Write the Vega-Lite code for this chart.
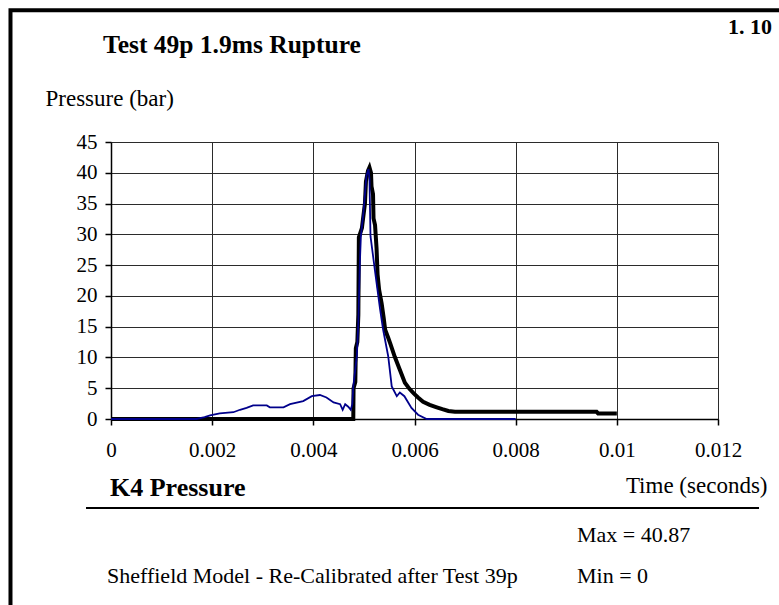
{
  "$schema": "https://vega.github.io/schema/vega-lite/v6.json",
  "width": 607,
  "height": 277,
  "autosize": {"type": "none"},
  "padding": {"left": 111, "top": 142, "right": 61, "bottom": 186},
  "background": "white",
  "title": {
    "text": "Test 49p 1.9ms Rupture",
    "anchor": "start",
    "frame": "group",
    "dx": -8,
    "offset": -50,
    "font": "Liberation Serif",
    "fontSize": 25.5,
    "fontWeight": "bold",
    "color": "black"
  },
  "config": {
    "view": {"stroke": null},
    "font": "Liberation Serif",
    "axis": {
      "labelFont": "Liberation Serif",
      "labelFontSize": 21,
      "labelColor": "black",
      "labelOverlap": false,
      "titleFont": "Liberation Serif",
      "titleFontSize": 23,
      "titleFontWeight": "normal",
      "titleColor": "black",
      "domainColor": "black",
      "domainWidth": 1.5,
      "tickColor": "black",
      "tickWidth": 1.5,
      "tickSize": 6,
      "grid": true,
      "gridColor": "#2b2b2b",
      "gridWidth": 1,
      "gridOpacity": 1
    }
  },
  "datasets": {
    "k4": [
      {"t": 0, "p": 0},
      {"t": 0.00479, "p": 0},
      {"t": 0.004795, "p": 5.0},
      {"t": 0.00483, "p": 6.0},
      {"t": 0.00484, "p": 11.5},
      {"t": 0.00487, "p": 12.5},
      {"t": 0.00489, "p": 17.0},
      {"t": 0.0049, "p": 29.5},
      {"t": 0.00496, "p": 31.0},
      {"t": 0.00499, "p": 33.0},
      {"t": 0.00502, "p": 35.0},
      {"t": 0.00504, "p": 38.6},
      {"t": 0.00508, "p": 40.3},
      {"t": 0.00511, "p": 40.87},
      {"t": 0.00514, "p": 40.0},
      {"t": 0.00515, "p": 37.8},
      {"t": 0.00518, "p": 36.5},
      {"t": 0.00519, "p": 32.6},
      {"t": 0.00522, "p": 31.5},
      {"t": 0.00525, "p": 27.7},
      {"t": 0.00527, "p": 23.5},
      {"t": 0.0053, "p": 21.0},
      {"t": 0.00535, "p": 18.8},
      {"t": 0.00539, "p": 16.5},
      {"t": 0.00542, "p": 14.5},
      {"t": 0.00548, "p": 13.2},
      {"t": 0.00552, "p": 12.3},
      {"t": 0.00561, "p": 10.1},
      {"t": 0.00571, "p": 8.0},
      {"t": 0.00581, "p": 5.9},
      {"t": 0.0059, "p": 4.9},
      {"t": 0.00598, "p": 4.2},
      {"t": 0.00607, "p": 3.5},
      {"t": 0.00617, "p": 2.8},
      {"t": 0.0063, "p": 2.3},
      {"t": 0.00644, "p": 1.9},
      {"t": 0.00655, "p": 1.6},
      {"t": 0.00667, "p": 1.3},
      {"t": 0.0068, "p": 1.17},
      {"t": 0.0096, "p": 1.17},
      {"t": 0.00963, "p": 0.9},
      {"t": 0.01, "p": 0.9}
    ],
    "model": [
      {"t": 0, "p": 0},
      {"t": 0.00169, "p": 0},
      {"t": 0.00185, "p": 0.3},
      {"t": 0.00196, "p": 0.6},
      {"t": 0.00215, "p": 0.9},
      {"t": 0.00242, "p": 1.1},
      {"t": 0.00255, "p": 1.5},
      {"t": 0.00268, "p": 1.8},
      {"t": 0.00281, "p": 2.2},
      {"t": 0.00308, "p": 2.2},
      {"t": 0.00314, "p": 1.9},
      {"t": 0.00341, "p": 1.9},
      {"t": 0.00354, "p": 2.4},
      {"t": 0.0038, "p": 2.9},
      {"t": 0.00397, "p": 3.7},
      {"t": 0.00413, "p": 3.9},
      {"t": 0.00426, "p": 3.5},
      {"t": 0.0044, "p": 2.7},
      {"t": 0.00453, "p": 2.4},
      {"t": 0.00458, "p": 1.5},
      {"t": 0.00463, "p": 2.4},
      {"t": 0.00469, "p": 2.0},
      {"t": 0.00474, "p": 1.5},
      {"t": 0.00477, "p": 2.4},
      {"t": 0.00479, "p": 5.3},
      {"t": 0.00486, "p": 10.2},
      {"t": 0.00489, "p": 15.6},
      {"t": 0.00492, "p": 25.4},
      {"t": 0.00494, "p": 29.7},
      {"t": 0.00499, "p": 33.5},
      {"t": 0.00505, "p": 39.5},
      {"t": 0.00509, "p": 40.6},
      {"t": 0.00511, "p": 39.0},
      {"t": 0.00513, "p": 29.7},
      {"t": 0.00519, "p": 25.9},
      {"t": 0.00525, "p": 22.1},
      {"t": 0.00532, "p": 17.8},
      {"t": 0.00538, "p": 14.5},
      {"t": 0.00548, "p": 10.2},
      {"t": 0.00555, "p": 5.3},
      {"t": 0.00565, "p": 3.7},
      {"t": 0.00571, "p": 4.3},
      {"t": 0.0058, "p": 3.7},
      {"t": 0.00594, "p": 1.8},
      {"t": 0.00607, "p": 0.7},
      {"t": 0.00624, "p": 0},
      {"t": 0.008, "p": 0}
    ]
  },
  "layer": [
    {
      "encoding": {
        "x": {
          "field": "t",
          "type": "quantitative",
          "scale": {"domain": [0, 0.012], "nice": false, "zero": false},
          "axis": {
            "values": [0, 0.002, 0.004, 0.006, 0.008, 0.01, 0.012],
            "format": "~g",
            "labelPadding": 14,
            "labelFlush": false,
            "title": "Time (seconds)",
            "titleAnchor": null,
            "titleAlign": "right",
            "titleBaseline": "alphabetic",
            "titleX": 656,
            "titleY": 73
          }
        },
        "y": {
          "field": "p",
          "type": "quantitative",
          "scale": {"domain": [0, 45], "nice": false},
          "axis": {
            "values": [0, 5, 10, 15, 20, 25, 30, 35, 40, 45],
            "tickCount": 10,
            "format": "d",
            "labelPadding": 8,
            "title": "Pressure (bar)",
            "titleAngle": 0,
            "titleAnchor": null,
            "titleAlign": "left",
            "titleBaseline": "alphabetic",
            "titleX": -66,
            "titleY": -37
          }
        }
      },
      "layer": [
        {
          "data": {"name": "k4"},
          "mark": {"type": "line", "color": "black", "strokeWidth": 4, "strokeJoin": "miter"}
        },
        {
          "data": {"name": "model"},
          "mark": {"type": "line", "color": "#00008b", "strokeWidth": 1.8}
        }
      ]
    },
    {
      "data": {"values": [{}]},
      "mark": {"type": "rect", "fill": null, "fillOpacity": 0, "stroke": "black", "strokeWidth": 4},
      "encoding": {
        "x": {"datum": -0.001987},
        "x2": {"datum": 0.0156},
        "y": {"datum": 66.39},
        "y2": {"datum": -45.6}
      }
    },
    {
      "data": {"values": [{}]},
      "mark": {"type": "rule", "color": "black", "strokeWidth": 2},
      "encoding": {
        "x": {"datum": -0.000494},
        "x2": {"datum": 0.012811},
        "y": {"datum": -14.46}
      }
    },
    {
      "data": {"values": [{"label": "1. 10"}]},
      "mark": {"type": "text", "align": "right", "baseline": "alphabetic", "font": "Liberation Serif", "fontSize": 22, "fontWeight": "bold", "color": "black"},
      "encoding": {
        "x": {"datum": 0.013068},
        "y": {"datum": 62.54},
        "text": {"field": "label"}
      }
    },
    {
      "data": {"values": [{"label": "K4 Pressure"}]},
      "mark": {"type": "text", "align": "left", "baseline": "alphabetic", "font": "Liberation Serif", "fontSize": 26, "fontWeight": "bold", "color": "black"},
      "encoding": {
        "x": {"datum": -0.00002},
        "y": {"datum": -12.51},
        "text": {"field": "label"}
      }
    },
    {
      "data": {"values": [{"label": "Sheffield Model - Re-Calibrated after Test 39p"}]},
      "mark": {"type": "text", "align": "left", "baseline": "alphabetic", "font": "Liberation Serif", "fontSize": 22, "color": "black"},
      "encoding": {
        "x": {"datum": -0.000079},
        "y": {"datum": -26.64},
        "text": {"field": "label"}
      }
    },
    {
      "data": {"name": "k4"},
      "transform": [
        {"aggregate": [{"op": "max", "field": "p", "as": "maxP"}]},
        {"calculate": "'Max = ' + toString(datum.maxP)", "as": "label"}
      ],
      "mark": {"type": "text", "align": "left", "baseline": "alphabetic", "font": "Liberation Serif", "fontSize": 22, "color": "black"},
      "encoding": {
        "x": {"datum": 0.009213},
        "y": {"datum": -19.98},
        "text": {"field": "label"}
      }
    },
    {
      "data": {"name": "k4"},
      "transform": [
        {"aggregate": [{"op": "min", "field": "p", "as": "minP"}]},
        {"calculate": "'Min = ' + toString(datum.minP)", "as": "label"}
      ],
      "mark": {"type": "text", "align": "left", "baseline": "alphabetic", "font": "Liberation Serif", "fontSize": 22, "color": "black"},
      "encoding": {
        "x": {"datum": 0.009213},
        "y": {"datum": -26.64},
        "text": {"field": "label"}
      }
    }
  ]
}
